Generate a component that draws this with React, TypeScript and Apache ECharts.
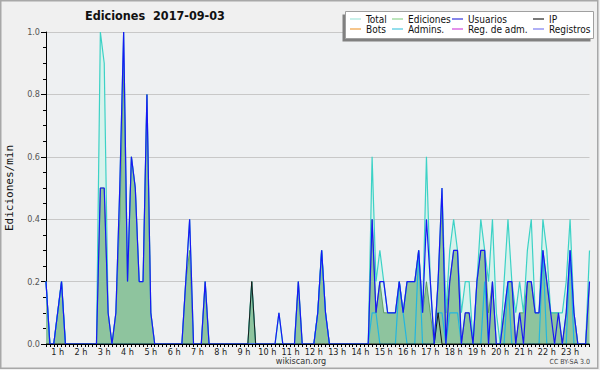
import React, { useEffect, useRef } from "react";
import * as echarts from "echarts";

// 10-minute bins from 00:30 to 23:50 (edits per minute)
const TIMES: string[] = [];
for (let m = 30; m < 24 * 60; m += 10) {
  TIMES.push(`${String(Math.floor(m / 60)).padStart(2, "0")}:${String(m % 60).padStart(2, "0")}`);
}

const TOTAL = [
  0.2, 0, 0, 0.1, 0.2, 0, 0, 0, 0, 0,
  0, 0, 0, 0, 1.0, 0.9, 0.1, 0, 0.1, 0.5,
  1.0, 0.2, 0.6, 0.5, 0.2, 0.2, 0.8, 0.1, 0, 0,
  0, 0, 0, 0, 0, 0, 0.2, 0.4, 0, 0,
  0, 0.2, 0, 0, 0, 0, 0, 0, 0, 0,
  0, 0, 0, 0.2, 0, 0, 0, 0, 0, 0,
  0.1, 0, 0, 0, 0, 0.2, 0, 0, 0, 0,
  0.1, 0.3, 0.1, 0, 0, 0, 0, 0, 0, 0,
  0, 0, 0, 0, 0.6, 0.2, 0.3, 0.2, 0.1, 0.1,
  0.1, 0.2, 0.1, 0.2, 0.2, 0.2, 0.3, 0.1, 0.6, 0.2,
  0, 0.2, 0.5, 0.1, 0.3, 0.4, 0.3, 0.1, 0.2, 0.2,
  0, 0.2, 0.4, 0.3, 0.2, 0.4, 0.1, 0, 0.2, 0.4,
  0.2, 0.1, 0.2, 0.1, 0.3, 0.4, 0.1, 0.1, 0.4, 0.3,
  0.1, 0.1, 0.1, 0.1, 0.2, 0.4, 0.1, 0, 0, 0,
  0.3,
];

const EDICIONES = [
  0.2, 0, 0, 0.1, 0.2, 0, 0, 0, 0, 0,
  0, 0, 0, 0, 0.5, 0.5, 0.1, 0, 0.1, 0.4,
  0.9, 0.2, 0.6, 0.5, 0.2, 0.2, 0.8, 0.1, 0, 0,
  0, 0, 0, 0, 0, 0, 0.2, 0.3, 0, 0,
  0, 0.2, 0, 0, 0, 0, 0, 0, 0, 0,
  0, 0, 0, 0.2, 0, 0, 0, 0, 0, 0,
  0, 0, 0, 0, 0, 0.2, 0, 0, 0, 0,
  0.1, 0.3, 0.1, 0, 0, 0, 0, 0, 0, 0,
  0, 0, 0, 0, 0.4, 0.1, 0.2, 0.1, 0.1, 0.1,
  0.1, 0.2, 0.1, 0.2, 0.2, 0.2, 0.3, 0.1, 0.2, 0.1,
  0, 0.2, 0.45, 0.1, 0.2, 0.3, 0.3, 0, 0.1, 0.1,
  0, 0.2, 0.3, 0.3, 0.1, 0.2, 0, 0, 0.1, 0.2,
  0.2, 0, 0.1, 0.1, 0.2, 0.2, 0.1, 0.1, 0.3, 0.2,
  0.1, 0.1, 0.1, 0, 0.1, 0.3, 0.1, 0, 0, 0,
  0.2,
];

const USUARIOS = [
  0.2, 0, 0, 0.1, 0.2, 0, 0, 0, 0, 0,
  0, 0, 0, 0, 0.5, 0.5, 0.1, 0, 0.1, 0.5,
  1.0, 0.2, 0.6, 0.5, 0.2, 0.2, 0.8, 0.1, 0, 0,
  0, 0, 0, 0, 0, 0, 0.2, 0.4, 0, 0,
  0, 0.2, 0, 0, 0, 0, 0, 0, 0, 0,
  0, 0, 0, 0, 0, 0, 0, 0, 0, 0,
  0.1, 0, 0, 0, 0, 0.2, 0, 0, 0, 0,
  0.1, 0.3, 0.1, 0, 0, 0, 0, 0, 0, 0,
  0, 0, 0, 0, 0.4, 0.1, 0.2, 0.2, 0.1, 0.1,
  0.1, 0.2, 0.1, 0.2, 0.2, 0.2, 0.3, 0.1, 0.4, 0.2,
  0, 0.2, 0.5, 0, 0.2, 0.3, 0.3, 0, 0.1, 0.1,
  0, 0.2, 0.3, 0.3, 0, 0.2, 0, 0, 0.1, 0.2,
  0.2, 0, 0.1, 0, 0.2, 0.2, 0.1, 0.1, 0.3, 0.2,
  0.1, 0, 0.1, 0, 0.1, 0.3, 0.1, 0, 0, 0,
  0.2,
];

const IP = [
  0, 0, 0, 0, 0, 0, 0, 0, 0, 0,
  0, 0, 0, 0, 0, 0, 0, 0, 0, 0,
  0, 0, 0, 0, 0, 0, 0, 0, 0, 0,
  0, 0, 0, 0, 0, 0, 0, 0, 0, 0,
  0, 0, 0, 0, 0, 0, 0, 0, 0, 0,
  0, 0, 0, 0.2, 0, 0, 0, 0, 0, 0,
  0, 0, 0, 0, 0, 0, 0, 0, 0, 0,
  0, 0, 0, 0, 0, 0, 0, 0, 0, 0,
  0, 0, 0, 0, 0, 0, 0, 0, 0, 0,
  0, 0, 0, 0, 0, 0, 0, 0, 0, 0,
  0, 0.1, 0, 0, 0, 0, 0, 0, 0, 0,
  0, 0, 0, 0, 0, 0, 0, 0, 0, 0,
  0, 0, 0, 0, 0, 0, 0, 0, 0, 0,
  0, 0, 0, 0, 0, 0, 0, 0, 0, 0,
  0,
];

const ADMINS = [
  0.2, 0, 0, 0.1, 0.2, 0, 0, 0, 0, 0,
  0, 0, 0, 0, 0, 0, 0, 0, 0, 0,
  0, 0, 0, 0, 0, 0, 0, 0, 0, 0,
  0, 0, 0, 0, 0, 0, 0, 0, 0, 0,
  0, 0, 0, 0, 0, 0, 0, 0, 0, 0,
  0, 0, 0, 0, 0, 0, 0, 0, 0, 0,
  0, 0, 0, 0, 0, 0, 0, 0, 0, 0,
  0.1, 0.3, 0.1, 0, 0, 0, 0, 0, 0, 0,
  0, 0, 0, 0, 0.1, 0.1, 0, 0, 0, 0,
  0, 0.2, 0.1, 0, 0, 0, 0.3, 0, 0, 0,
  0, 0.1, 0.1, 0, 0.1, 0.1, 0.1, 0, 0, 0,
  0, 0, 0, 0.2, 0, 0, 0, 0, 0, 0.2,
  0, 0, 0, 0, 0, 0, 0, 0, 0.3, 0,
  0, 0, 0, 0, 0, 0.3, 0, 0, 0, 0,
  0,
];

// series that stay at zero all day (nothing drawn)
const BOTS: number[] = [];
const REG_ADM: number[] = [];
const REGISTROS: number[] = [];

const Y_TICKS = [0, 0.2, 0.4, 0.6, 0.8, 1.0];

const LEGEND_NAMES = ["Total", "Ediciones", "Usuarios", "IP", "Bots", "Admins.", "Reg. de adm.", "Registros"];
const LEGEND_COLORS = ["#a6e6dd", "#8fd48f", "#3434dc", "#222222", "#f0a040", "#4cc8e0", "#d048dc", "#7c7cf0"];

const FONT = "'DejaVu Sans Condensed', 'Liberation Sans', sans-serif";

export default function App() {
  const ref = useRef<HTMLDivElement>(null);

  useEffect(() => {
    if (!ref.current) return;
    const chart = echarts.init(ref.current, null, { renderer: "svg" });

    const colX = [350, 392, 452, 533];
    const rowY = [19, 29];
    const legendEls: any[] = [];
    LEGEND_NAMES.forEach((name, i) => {
      const x = colX[i % 4];
      const y = rowY[Math.floor(i / 4)];
      legendEls.push({
        type: "line",
        z: 102,
        shape: { x1: x, y1: y, x2: x + 11, y2: y },
        style: { stroke: LEGEND_COLORS[i], lineWidth: 1.2 },
      });
      legendEls.push({
        type: "text",
        z: 102,
        x: x + 16,
        y: y,
        style: {
          text: name,
          fill: "#111",
          font: `10px ${FONT}`,
          textVerticalAlign: "middle",
          textAlign: "left",
        },
      });
    });

    const lineSeries = (name: string, data: number[], color: string, width: number, extra: any = {}) => ({
      name,
      type: "line",
      data,
      symbol: "none",
      showSymbol: false,
      lineStyle: { color, width },
      itemStyle: { color },
      emphasis: { disabled: true },
      ...extra,
    });

    const option: any = {
      animation: false,
      backgroundColor: "#f0f0f0",
      title: {
        text: "Ediciones  2017-09-03",
        left: 85,
        top: 9,
        padding: 0,
        textStyle: { fontSize: 12.5, fontWeight: "bold", color: "#111", fontFamily: FONT },
      },
      grid: {
        left: 46,
        top: 32,
        right: 10.5,
        bottom: 26,
        show: true,
        backgroundColor: "#eef0f2",
        borderWidth: 0,
        outerBoundsMode: "none",
        containLabel: false,
      },
      xAxis: {
        type: "category",
        data: TIMES,
        boundaryGap: false,
        z: 10,
        axisLine: { lineStyle: { color: "#000", width: 1 } },
        axisTick: { interval: 0, length: 3, lineStyle: { color: "#000" } },
        axisLabel: {
          interval: (_i: number, v: string) => v.endsWith(":00"),
          formatter: (v: string) => `${parseInt(v, 10)} h`,
          fontSize: 9,
          margin: 3,
          color: "#222",
          fontFamily: FONT,
        },
        splitLine: { show: false },
      },
      yAxis: {
        type: "value",
        min: Y_TICKS[0],
        max: Y_TICKS[Y_TICKS.length - 1],
        interval: 0.2,
        name: "Ediciones/min",
        nameLocation: "middle",
        nameRotate: 90,
        nameGap: 31,
        nameTextStyle: { fontFamily: "'DejaVu Sans Mono', monospace", fontSize: 11, color: "#111" },
        axisLine: { show: true, lineStyle: { color: "#000" } },
        axisTick: { show: true, length: 5, lineStyle: { color: "#000" } },
        minorTick: { show: true, splitNumber: 4, length: 3, lineStyle: { color: "#000" } },
        axisLabel: {
          formatter: (v: number) => v.toFixed(1),
          fontSize: 9,
          color: "#555",
          margin: 6,
          fontFamily: FONT,
        },
        splitLine: { show: true, lineStyle: { color: "#c8c8c8", width: 1 } },
      },
      series: [
        lineSeries("Total", TOTAL, "#3cd2c6", 0, {
          lineStyle: { width: 0, color: "#3cd2c6" },
          areaStyle: { color: "#d8f2ec", opacity: 1 },
        }),
        lineSeries("Ediciones", EDICIONES, "#4e8f56", 0.8, {
          areaStyle: { color: "#8ec49e", opacity: 1 },
        }),
        lineSeries("Total", TOTAL, "#3cd2c6", 1.2),
        lineSeries("Admins.", ADMINS, "#22b6e0", 1.2),
        lineSeries("IP", IP, "#1a1a1a", 1),
        lineSeries("Usuarios", USUARIOS, "#1818f4", 1.2),
        lineSeries("Bots", BOTS, "#f0a040", 1),
        lineSeries("Reg. de adm.", REG_ADM, "#d048dc", 1),
        lineSeries("Registros", REGISTROS, "#7c7cf0", 1),
      ],
      graphic: [
        {
          type: "rect",
          z: 100,
          shape: { x: 342.5, y: 14.5, width: 248, height: 27 },
          style: { fill: "#808080" },
        },
        {
          type: "rect",
          z: 101,
          shape: { x: 345.5, y: 11.5, width: 248, height: 27 },
          style: { fill: "#ffffff", stroke: "#a0a0a0", lineWidth: 1 },
        },
        ...legendEls,
        {
          type: "text",
          z: 100,
          x: 301,
          y: 361,
          style: {
            text: "wikiscan.org",
            fill: "#333",
            font: `9px ${FONT}`,
            textAlign: "center",
            textVerticalAlign: "middle",
          },
        },
        {
          type: "text",
          z: 100,
          x: 590,
          y: 362,
          style: {
            text: "CC BY-SA 3.0",
            fill: "#444",
            font: `7px ${FONT}`,
            textAlign: "right",
            textVerticalAlign: "middle",
          },
        },
        {
          type: "rect",
          z: 110,
          shape: { x: 0.75, y: 0.75, width: 597, height: 367.5 },
          style: { fill: "none", stroke: "#a8a8a8", lineWidth: 1.5 },
        },
      ],
    };

    chart.setOption(option);
    return () => chart.dispose();
  }, []);

  return <div ref={ref} style={{ position: "fixed", left: 0, top: 0, width: 600, height: 370 }} />;
}
